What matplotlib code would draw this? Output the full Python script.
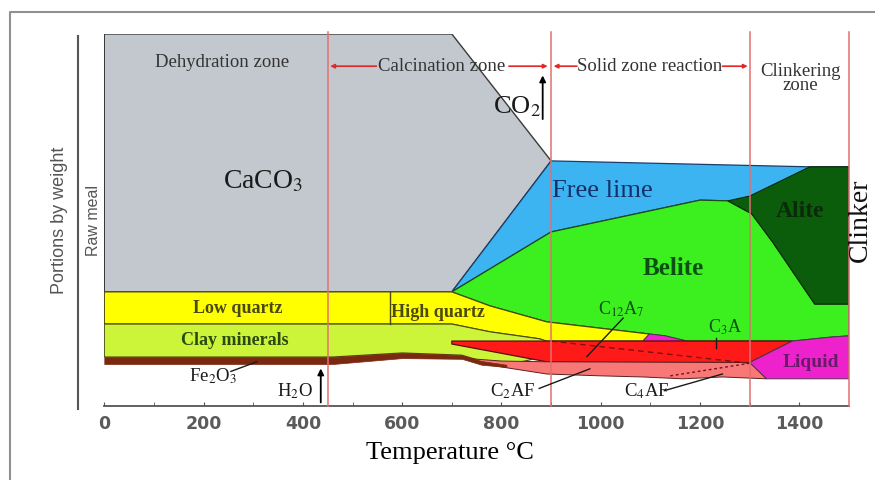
import matplotlib
matplotlib.use("Agg")
import matplotlib.pyplot as plt
from matplotlib.patches import Polygon
from matplotlib.lines import Line2D

plt.rcParams['mathtext.fontset'] = 'stix'
SERIF = ['Liberation Serif', 'DejaVu Serif']
SANS = ['Liberation Sans', 'DejaVu Sans']

# ---------------- data (temperature in degC, portion by weight in %) ----------------
temp_ticks = [0, 200, 400, 600, 800, 1000, 1200, 1400]
zone_bounds = [450, 900, 1300, 1500]

caco3_T = [0, 0, 700, 900, 700]
caco3_y = [30.3, 100, 100, 65.7, 30.3]

lime_free_T = [700, 900, 1420, 1500, 1500, 1254, 1200, 900]
lime_free_y = [30.3, 65.7, 64.1, 64.1, 45, 54.9, 55.1, 46.5]

belite_T = [700, 900, 1200, 1256, 1304, 1346, 1431, 1500, 1500, 1467, 1386, 1173, 1130, 1098, 891, 777]
belite_y = [30.3, 46.5, 55.1, 54.9, 51.4, 43.8, 27.0, 27.0, 18.4, 18.1, 17.0, 17.0, 18.4, 18.9, 22.2, 26.5]

alite_T = [1421, 1500, 1500, 1431, 1346, 1304, 1256, 1300]
alite_y = [64.1, 64.1, 27.0, 27.0, 43.8, 51.4, 54.9, 56.2]

quartz_T = [0, 700, 777, 891, 1098, 1085, 890, 877, 777, 700, 0]
quartz_y = [30.3, 30.3, 26.5, 22.2, 18.9, 17.0, 17.0, 17.6, 19.5, 21.6, 21.6]
high_quartz_T = 575

c3a_T = [1098, 1130, 1173, 1085]
c3a_y = [18.9, 18.4, 17.0, 17.0]

clay_T = [0, 700, 777, 877, 890, 860, 810, 760, 720, 600, 460, 0]
clay_y = [21.6, 21.6, 19.5, 17.6, 17.0, 12.0, 10.5, 11.6, 13.2, 13.8, 12.7, 12.7]

c12a7_T = [700, 1386, 1300, 1000, 891, 700]
c12a7_y = [17.0, 17.0, 11.2, 11.2, 11.4, 16.2]

ferrite_T = [740, 800, 891, 1300, 1334, 1245, 1165, 1085, 1000, 891, 800, 757]
ferrite_y = [12.2, 11.6, 11.4, 11.2, 6.8, 7.3, 6.8, 7.3, 7.6, 8.1, 10.0, 11.0]

liquid_T = [1300, 1374, 1386, 1467, 1500, 1500, 1334]
liquid_y = [11.2, 16.2, 17.0, 18.1, 18.4, 6.8, 6.8]

fe2o3_T = [0, 460, 600, 720, 760, 810]
fe2o3_top = [12.7, 12.7, 13.8, 13.2, 11.6, 10.6]
fe2o3_bot = [10.8, 10.8, 12.4, 12.2, 10.6, 10.0]

dash_c12a7_T = [900, 1300]
dash_c12a7_y = [17.0, 11.0]
dash_c4af_T = [1140, 1300]
dash_c4af_y = [7.6, 11.0]

# ---------------- figure ----------------
W, H = 875, 481
fig = plt.figure(figsize=(W / 100, H / 100), dpi=100)
fig.patch.set_facecolor('white')

def fx(px):
    return px / W

def fy(py):
    return 1 - py / H

ax = fig.add_axes([fx(104.3), fy(407), fx(849) - fx(104.3), fy(35) - fy(407)])
ax.set_xlim(0, 1500)
ax.set_ylim(-0.55, 100)
ax.set_facecolor('none')
for s in ['left', 'right', 'top']:
    ax.spines[s].set_visible(False)
ax.spines['bottom'].set_color('#555555')
ax.spines['bottom'].set_linewidth(1.3)
ax.set_yticks([])
ax.set_xticks(temp_ticks)
ax.set_xticks(range(100, 1500, 200), minor=True)
ax.tick_params(axis='x', which='both', direction='in', length=3, color='#555555', pad=6)
for lab in ax.get_xticklabels():
    lab.set_fontfamily('DejaVu Sans')
    lab.set_fontweight('bold')
    lab.set_fontsize(12.5)
    lab.set_color('#5a5a5a')


def region(T, y, fc, ec='#333333', lw=0.8, z=2):
    ax.add_patch(Polygon(list(zip(T, y)), closed=True, facecolor=fc, edgecolor=ec,
                         linewidth=lw, zorder=z, joinstyle='round'))

region(caco3_T, caco3_y, '#c3c8ce', ec='#3a3a3a', lw=1.0)
region(lime_free_T, lime_free_y, '#3cb4f2', ec='#1c3c6a', lw=0.9)
region(belite_T, belite_y, '#3cf020', ec='#1a4a1a', lw=0.9)
region(alite_T, alite_y, '#0b5c0b', ec='#0a2a0a', lw=0.8)
region(quartz_T, quartz_y, '#ffff00', ec='#4a4a10', lw=0.9)
region(c3a_T, c3a_y, '#ee22cc', ec='#553355', lw=0.6)
region(clay_T, clay_y, '#ccf53a', ec='#4a4a10', lw=0.8)
region(c12a7_T, c12a7_y, '#ff1a1a', ec='#5a1010', lw=0.9, z=3)
region(ferrite_T, ferrite_y, '#f87878', ec='#5a2020', lw=0.7, z=3)
region(liquid_T, liquid_y, '#ee22cc', ec='#553355', lw=0.7, z=3)
ax.fill_between(fe2o3_T, fe2o3_bot, fe2o3_top, color='#7a2810', zorder=4, linewidth=0.5)

ax.plot([high_quartz_T, high_quartz_T], [21.6, 30.3], color='#4a4a10', lw=1.0, zorder=5)
ax.plot(dash_c12a7_T, dash_c12a7_y, color='#7a1010', lw=1.0, ls=(0, (4, 3)), zorder=5)
ax.plot(dash_c4af_T, dash_c4af_y, color='#7a1010', lw=1.0, ls=(0, (2, 2)), zorder=5)

# zone boundaries
for t in zone_bounds:
    ax.plot([t, t], [-0.55, 100.6], color='#e07070', lw=1.1, zorder=6, clip_on=False)

# zone arrows
def zarrow(t0, t1, y):
    ax.annotate('', xy=(t1, y), xytext=(t0, y),
                arrowprops=dict(arrowstyle='-|>', color='#e02828', lw=1.2,
                                mutation_scale=6, shrinkA=0, shrinkB=0), zorder=7)

zone_y = 91.3
zarrow(548, 455, zone_y)
zarrow(815, 893, zone_y)
zarrow(952, 905, zone_y)
zarrow(1245, 1296, zone_y)

# gas arrows
ax.annotate('', xy=(883, 88.8), xytext=(883, 77.0),
            arrowprops=dict(arrowstyle='-|>', color='black', lw=1.3, mutation_scale=9,
                            shrinkA=0, shrinkB=0), zorder=7)
ax.annotate('', xy=(436, 9.6), xytext=(436, 0.4),
            arrowprops=dict(arrowstyle='-|>', color='black', lw=1.3, mutation_scale=9,
                            shrinkA=0, shrinkB=0), zorder=7)

# leader lines
def leader(t0, y0, t1, y1):
    ax.plot([t0, t1], [y0, y1], color='#1a1a1a', lw=1.0, zorder=7, clip_on=False)

leader(255, 8.8, 307, 11.4)      # Fe2O3
leader(876, 4.2, 978, 9.5)       # C2AF
leader(1128, 3.6, 1245, 8.1)     # C4AF
leader(1045, 23.2, 972, 12.8)    # C12A7
leader(1233, 17.8, 1233, 15.0)   # C3A

# texts
def txt(t, y, s, size, color='#1a1a1a', weight='normal', ha='center', **kw):
    ax.text(t, y, s, fontsize=size, color=color, fontweight=weight, ha=ha, va='center',
            family=SERIF, zorder=8, **kw)

txt(237, 92.7, 'Dehydration zone', 13.5, color='#333333')
txt(680, 91.5, 'Calcination zone', 13.5, color='#333333')
txt(1099, 91.4, 'Solid zone reaction', 13.5, color='#333333')
txt(1402, 88.3, 'Clinkering\nzone', 13.5, color='#333333', linespacing=0.75)
txt(320, 60.3, 'CaCO$_3$', 20)
txt(831, 80.5, 'CO$_2$', 19)
txt(1003, 57.8, 'Free lime', 19, color='#14306a')
txt(1147, 36.8, 'Belite', 18, color='#0a5014', weight='bold')
txt(1402, 52.4, 'Alite', 17, color='#0a2a0a', weight='bold')
txt(1424, 11.6, 'Liquid', 14, color='#6a1a6a', weight='bold')
txt(269, 26.2, 'Low quartz', 13, color='#4a4a0a', weight='bold')
txt(263, 17.4, 'Clay minerals', 13, color='#2a4a10', weight='bold')
txt(578, 24.9, 'High quartz', 13, color='#4a4a0a', weight='bold', ha='left')
txt(1042, 25.8, 'C$_{12}$A$_7$', 13, color='#0a5014')
txt(1250, 20.9, 'C$_3$A', 13, color='#0a5014')
txt(219, 7.8, 'Fe$_2$O$_3$', 13.5)
txt(384, 3.6, 'H$_2$O', 13.5)
txt(823, 3.6, 'C$_2$AF', 13.5)
txt(1093, 3.6, 'C$_4$AF', 13.5)

# figure-level labels and frame
fig.text(fx(450), fy(453), 'Temperature °C', fontsize=19, family=SERIF, ha='center', va='center')
fig.text(fx(60), fy(220), 'Portions by weight', fontsize=13, family=SANS, color='#555555',
         rotation=90, ha='center', va='center')
fig.text(fx(93), fy(220), 'Raw meal', fontsize=11.5, family=SANS, color='#555555',
         rotation=90, ha='center', va='center')
fig.text(fx(860), fy(220), 'Clinker', fontsize=20, family=SERIF, color='#111111',
         rotation=90, ha='center', va='center')
fig.add_artist(Line2D([fx(78), fx(78)], [fy(37), fy(410)], color='#555555', lw=1.5))
fig.add_artist(Line2D([fx(10), fx(10), fx(880)], [fy(490), fy(13), fy(13)],
                      color='#909090', lw=1.5))

fig.savefig('out.png', dpi=100)
